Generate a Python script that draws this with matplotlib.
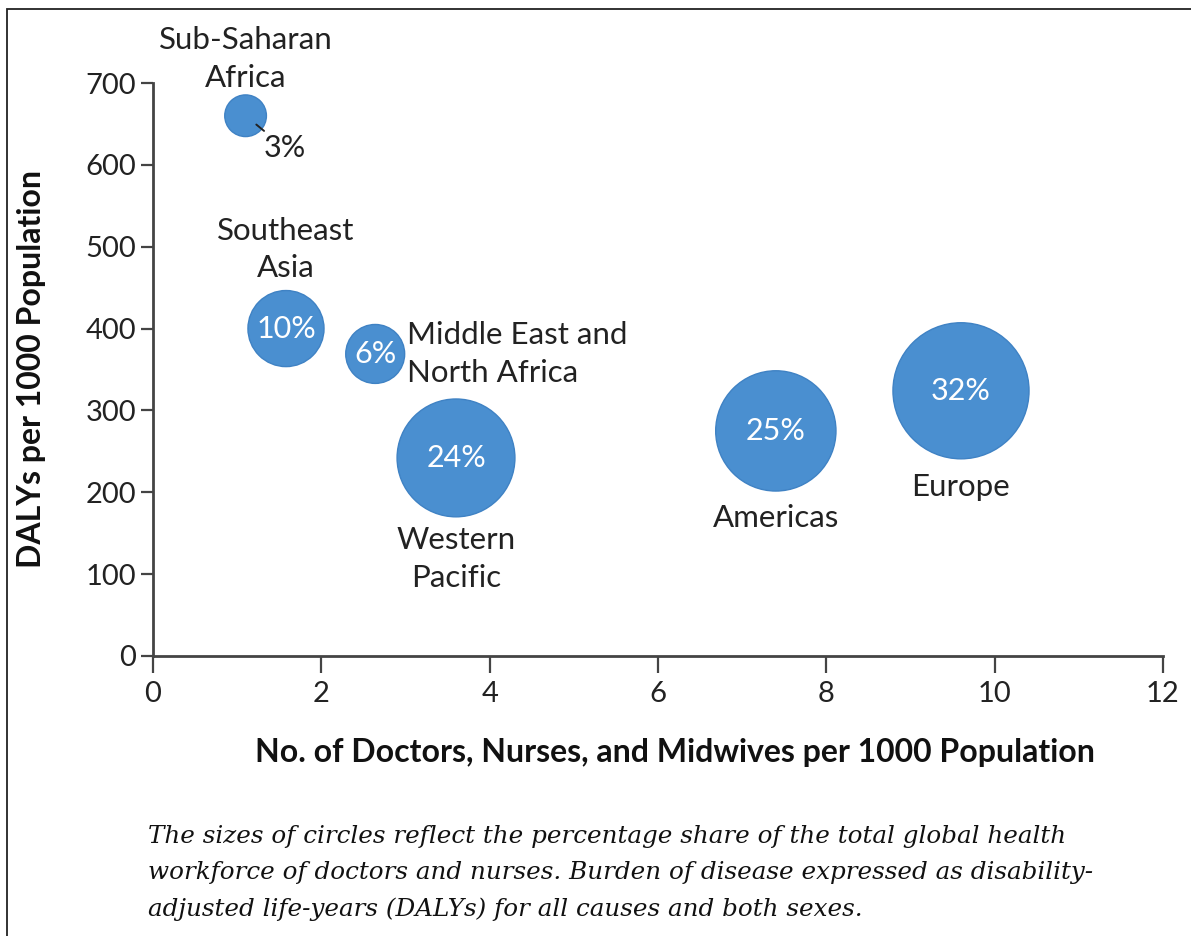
import matplotlib
matplotlib.use("Agg")
import matplotlib.pyplot as plt
from matplotlib.patches import Rectangle

# data
regions = ["Sub-Saharan\nAfrica", "Southeast\nAsia", "Middle East and\nNorth Africa",
           "Western\nPacific", "Americas", "Europe"]
workers = [1.10, 1.58, 2.64, 3.60, 7.40, 9.60]      # per 1000 population
dalys = [660, 400, 369, 242, 275, 324]              # per 1000 population
share = [3, 10, 6, 24, 25, 32]                      # % of global health workforce

# label placement (offset points from bubble centre, alignment)
label_pos = [(0, 41, "center"), (0, 57, "center"), (23, 0, "left"),
             (0, -73, "center"), (0, -63, "center"), (0, -69, "center")]

blue = "#4A8FD0"
sans = ["Lato", "DejaVu Sans"]
plt.rcParams["font.family"] = sans

fig = plt.figure(figsize=(11.91, 9.36), dpi=100)
fig.patches.append(Rectangle((7 / 1191, -0.05), 1.1, 1 - 9 / 936 + 0.05,
                             transform=fig.transFigure, fill=False,
                             edgecolor="#222222", linewidth=1.3))

ax = fig.add_axes([153 / 1191, 1 - 656 / 936, 1010 / 1191, 573 / 936])
ax.set_xlim(0, 12)
ax.set_ylim(0, 700)

# area proportional to share
ax.scatter(workers, dalys, s=[p * 300 for p in share], color=blue,
           edgecolors="#3F82C4", linewidths=1.0, zorder=3, clip_on=False)

for i, (x, y, p) in enumerate(zip(workers, dalys, share)):
    dx, dy, ha = label_pos[i]
    ax.annotate(regions[i], (x, y), xytext=(dx, dy), textcoords="offset points",
                ha=ha, va="center", fontsize=22.5, color="#222222",
                linespacing=1.42, annotation_clip=False)
    if p >= 5:
        ax.text(x, y, f"{p}%", ha="center", va="center", fontsize=22,
                color="white", zorder=4)

# small share gets a leader line
ax.annotate(f"{share[0]}%", (workers[0], dalys[0]), xytext=(28, -23),
            textcoords="offset points", ha="center", va="center",
            fontsize=22, color="#222222",
            arrowprops=dict(arrowstyle="-", color="#222222", lw=1.4,
                            shrinkA=0, shrinkB=10))

for side in ["top", "right"]:
    ax.spines[side].set_visible(False)
for side in ["left", "bottom"]:
    ax.spines[side].set_color("#444444")
    ax.spines[side].set_linewidth(2)

ax.set_xticks(range(0, 13, 2))
ax.set_yticks(range(0, 701, 100))
ax.tick_params(axis="x", length=12, width=1.6, color="#444444",
               labelsize=21, labelcolor="#222222", pad=6)
ax.tick_params(axis="y", length=9, width=1.6, color="#444444",
               labelsize=21, labelcolor="#222222", pad=3)

ax.set_xlabel("No. of Doctors, Nurses, and Midwives per 1000 Population",
              fontsize=23, fontweight="bold", color="#111111")
ax.xaxis.set_label_coords((675 - 153) / 1010, -(738 - 656) / 573)
ax.set_ylabel("DALYs per 1000 Population", fontsize=23,
              fontweight="bold", color="#111111")
ax.yaxis.set_label_coords(-(153 - 46) / 1010, (656 - 369) / 573)

caption = ("The sizes of circles reflect the percentage share of the total global health\n"
           "workforce of doctors and nurses. Burden of disease expressed as disability-\n"
           "adjusted life-years (DALYs) for all causes and both sexes.")
fig.text(148 / 1191, 1 - 873 / 936, caption, ha="left", va="center",
         fontsize=17.7, fontstyle="italic", family="DejaVu Serif",
         color="#111111", linespacing=1.75)

fig.savefig("out.png", dpi=100)
